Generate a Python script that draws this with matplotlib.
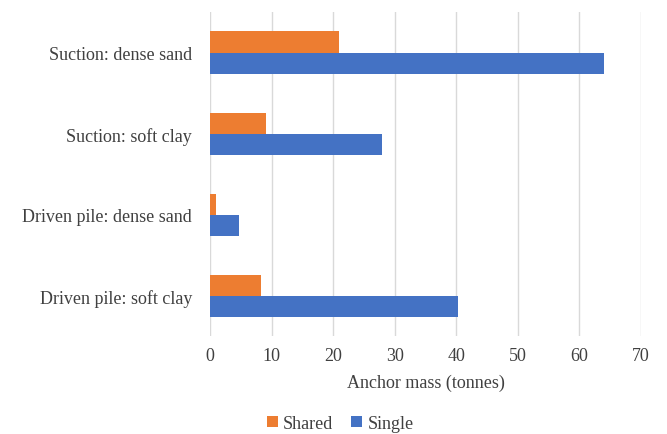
import matplotlib.pyplot as plt
import numpy as np

categories = ['Driven pile: soft clay', 'Driven pile: dense sand',
              'Suction: soft clay', 'Suction: dense sand']
shared = [8.3, 1.0, 9.0, 21.0]
single = [40.2, 4.7, 28.0, 64.0]
xticks = [0, 10, 20, 30, 40, 50, 60, 70]

plt.rcParams['font.family'] = ['Liberation Serif', 'DejaVu Serif']

fig = plt.figure(figsize=(6.67, 4.35), dpi=100)
ax = fig.add_axes([0.315, 0.225, 0.646, 0.745])

y = np.arange(len(categories))
h = 0.26
ax.barh(y + h / 2, shared, height=h, color='#ED7D31', label='Shared', zorder=3)
ax.barh(y - h / 2, single, height=h, color='#4472C4', label='Single', zorder=3)

ax.set_xlim(0, 70)
ax.set_ylim(-0.5, len(categories) - 0.5)
ax.set_xticks(xticks)
ax.set_yticks(y)
ax.set_yticklabels(categories, fontsize=13, color='#404040')
ax.tick_params(axis='x', labelsize=13, labelcolor='#404040', length=0, pad=8)
ax.tick_params(axis='y', length=0, pad=13)
ax.grid(axis='x', color='#d9d9d9', linewidth=1, zorder=0)
for s in ax.spines.values():
    s.set_visible(False)
ax.set_xlabel('Anchor mass (tonnes)', fontsize=13, color='#404040', labelpad=7)

fig.legend(loc='lower center', bbox_to_anchor=(0.51, -0.032), ncol=2, frameon=False,
           fontsize=13, handlelength=0.6, handleheight=0.6, handletextpad=0.3,
           columnspacing=1.0, labelcolor='#404040')

fig.savefig('out.png', dpi=100)
